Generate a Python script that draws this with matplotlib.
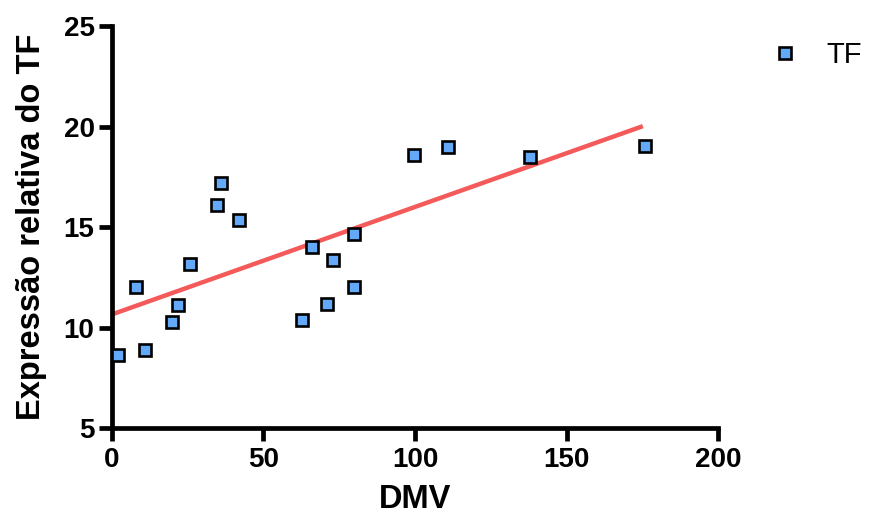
import numpy as np
import matplotlib
matplotlib.use("Agg")
from matplotlib import pyplot as plt

# DMV vs relative TF expression
dmv = [2.0, 7.9, 10.9, 19.8, 21.8, 25.7, 34.7, 36.0, 41.9, 62.7,
       66.0, 71.0, 72.9, 79.9, 79.9, 99.7, 110.9, 138.0, 175.9]
tf_expr = [8.63, 12.0, 8.9, 10.25, 11.1, 13.15, 16.1, 17.2, 15.35, 10.35,
           14.0, 11.15, 13.35, 12.0, 14.65, 18.6, 19.0, 18.5, 19.05]

# regression line endpoints
fit_x = [0.5, 174.5]
fit_y = [10.68, 19.98]

x_ticks = [0, 50, 100, 150, 200]
y_ticks = [5, 10, 15, 20, 25]

plt.rcParams["font.family"] = ["Liberation Sans", "DejaVu Sans"]

fig = plt.figure(figsize=(8.7, 5.23), dpi=100)
ax = fig.add_axes([0.1287, 0.1816, 0.6966, 0.7687])

ax.plot(fit_x, fit_y, color="#F45A5A", lw=3.2, zorder=2, clip_on=False)
ax.plot(dmv, tf_expr, ls="none", marker="s", ms=9, mfc="#63A9F8",
        mec="black", mew=1.9, label="TF", zorder=3, clip_on=False)

ax.set_xlim(0, 200)
ax.set_ylim(5, 25)
ax.set_xticks(x_ticks)
ax.set_yticks(y_ticks)

for side in ("top", "right"):
    ax.spines[side].set_visible(False)
for side in ("left", "bottom"):
    ax.spines[side].set_linewidth(3.4)
    ax.spines[side].set_capstyle("projecting")
ax.tick_params(width=3.4, length=9.5, direction="out", labelsize=20)
ax.tick_params(axis="x", pad=4)
ax.tick_params(axis="y", pad=3)
for lbl in ax.get_xticklabels() + ax.get_yticklabels():
    lbl.set_fontweight("bold")

ax.set_xlabel("DMV", fontsize=23.5, fontweight="bold", labelpad=8)
ax.set_ylabel("Expressão relativa do TF", fontsize=23.5, fontweight="bold", labelpad=12)

ax.legend(loc="upper left", bbox_to_anchor=(1.0, 1.035), frameon=False,
          fontsize=21, handletextpad=0.12, borderaxespad=0.6,
          handlelength=2.6)

fig.savefig("out.png", dpi=100)
